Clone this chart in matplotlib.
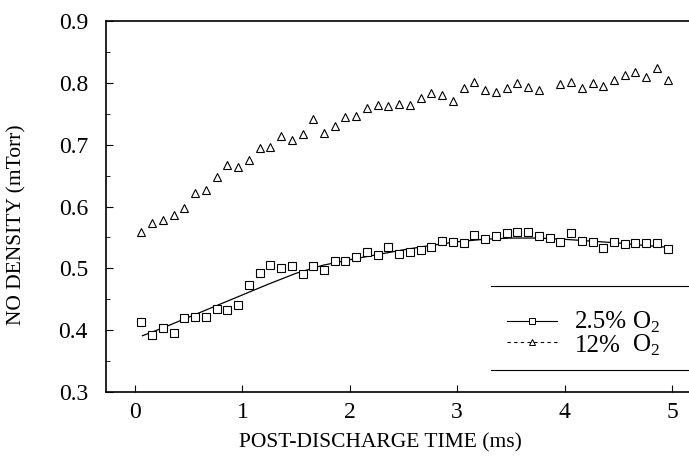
import numpy as np
import matplotlib
matplotlib.use("Agg")
import matplotlib.pyplot as plt
from matplotlib.lines import Line2D
from matplotlib.ticker import MultipleLocator

plt.rcParams['font.family'] = ['Liberation Serif', 'DejaVu Serif']
plt.rcParams['mathtext.fontset'] = 'custom'
plt.rcParams['mathtext.rm'] = 'Liberation Serif'

# ---- data ----
time_ms = [0.06, 0.16, 0.26, 0.36, 0.46, 0.56, 0.66, 0.76, 0.86, 0.96,
           1.06, 1.16, 1.26, 1.36, 1.46, 1.56, 1.66, 1.76, 1.86, 1.96,
           2.06, 2.16, 2.26, 2.36, 2.46, 2.56, 2.66, 2.76, 2.86, 2.96,
           3.06, 3.16, 3.26, 3.36, 3.46, 3.56, 3.66, 3.76, 3.86, 3.96,
           4.06, 4.16, 4.26, 4.36, 4.46, 4.56, 4.66, 4.76, 4.86, 4.96]

no_2p5 = [0.414, 0.393, 0.403, 0.395, 0.419, 0.422, 0.422, 0.434, 0.432, 0.440,
          0.473, 0.493, 0.505, 0.501, 0.504, 0.491, 0.504, 0.497, 0.512, 0.512,
          0.519, 0.526, 0.522, 0.534, 0.523, 0.527, 0.530, 0.535, 0.545, 0.542,
          0.541, 0.554, 0.547, 0.552, 0.557, 0.559, 0.559, 0.552, 0.549, 0.543,
          0.557, 0.545, 0.543, 0.533, 0.542, 0.539, 0.541, 0.541, 0.541, 0.531]

no_12 = [0.559, 0.573, 0.579, 0.586, 0.597, 0.622, 0.627, 0.647, 0.667, 0.664,
         0.676, 0.694, 0.696, 0.714, 0.708, 0.717, 0.742, 0.719, 0.730, 0.744,
         0.747, 0.760, 0.764, 0.763, 0.766, 0.764, 0.775, 0.783, 0.781, 0.771,
         0.791, 0.802, 0.788, 0.786, 0.791, 0.799, 0.794, 0.789, np.nan, 0.798,
         0.801, 0.791, 0.800, 0.795, 0.805, 0.813, 0.817, 0.809, 0.824, 0.805]

fit_t = [0.07, 0.25, 0.5, 0.75, 1.0, 1.25, 1.5, 1.75, 2.0, 2.25, 2.5,
         2.75, 3.0, 3.25, 3.5, 3.75, 4.0, 4.25, 4.5, 4.75, 4.97]
fit_2p5 = [0.391, 0.403, 0.421, 0.439, 0.457, 0.475, 0.492, 0.505, 0.514, 0.522, 0.530,
           0.537, 0.543, 0.547, 0.549, 0.549, 0.547, 0.544, 0.541, 0.537, 0.534]

xticks = [0, 1, 2, 3, 4, 5]
yticks = [0.3, 0.4, 0.5, 0.6, 0.7, 0.8, 0.9]
label_pct = ["2.5%", "12%"]
label_gas = "O$_2$"

# ---- figure ----
fig = plt.figure(figsize=(6.89, 4.57), dpi=100)
ax = fig.add_axes([0.1538, 0.1422, 0.8527, 0.8118])

ax.plot(fit_t, fit_2p5, color='black', lw=0.9)
ax.plot(time_ms, no_2p5, ls='none', marker='s', ms=5.5, mfc='white',
        mec='black', mew=0.8)
ax.plot(time_ms, no_12, ls='none', marker='^', ms=5.5, mfc='white',
        mec='black', mew=0.8)

ax.set_xlim(-0.27, 5.2)
ax.set_ylim(0.3, 0.9)
ax.set_xticks(xticks)
ax.set_yticks(yticks)
ax.set_yticklabels([f"{v:.1f}" for v in yticks])
ax.yaxis.set_minor_locator(MultipleLocator(0.05))
ax.tick_params(axis='both', which='major', direction='in', length=5,
               width=0.8, labelsize=17, top=False, right=False)
ax.tick_params(axis='y', which='major', pad=13)
ax.tick_params(axis='x', which='major', pad=7)
ax.tick_params(axis='y', which='minor', direction='in', length=3, width=0.6)
for s in ['left', 'bottom', 'top']:
    ax.spines[s].set_linewidth(1.2)
ax.spines['right'].set_visible(False)

ax.set_xlabel("POST-DISCHARGE TIME (ms)", fontsize=15.5)
ax.set_ylabel("NO DENSITY (mTorr)", fontsize=15.5)
ax.xaxis.set_label_coords(0.468, -0.11)
ax.yaxis.set_label_coords(-0.135, 0.45)

# legend: handles only, labels drawn as aligned text
h1 = Line2D([], [], color='black', lw=0.8, marker='s', ms=4, mfc='white', mew=0.7)
h2 = Line2D([], [], color='black', lw=0.8, ls=(0, (3, 3)), marker='^', ms=4,
            mfc='white', mew=0.7)
leg = ax.legend([h1, h2], ["", ""], loc='upper left',
                bbox_to_anchor=(0.652, 0.262), frameon=False, fontsize=18,
                handlelength=2.0, handletextpad=0.9, labelspacing=-0.05,
                numpoints=1, borderpad=0.2)
for yy, pct in zip([0.188, 0.125], label_pct):
    ax.text(0.798, yy, pct, transform=ax.transAxes, fontsize=18, va='center', ha='left')
    ax.text(0.896, yy, label_gas, transform=ax.transAxes, fontsize=18, va='center', ha='left')
# legend rules (top and bottom)
ax.plot([0.655, 1.0], [0.285, 0.285], transform=ax.transAxes, color='black', lw=0.8)
ax.plot([0.655, 1.0], [0.06, 0.06], transform=ax.transAxes, color='black', lw=0.8)

fig.savefig("out.png", dpi=100)
